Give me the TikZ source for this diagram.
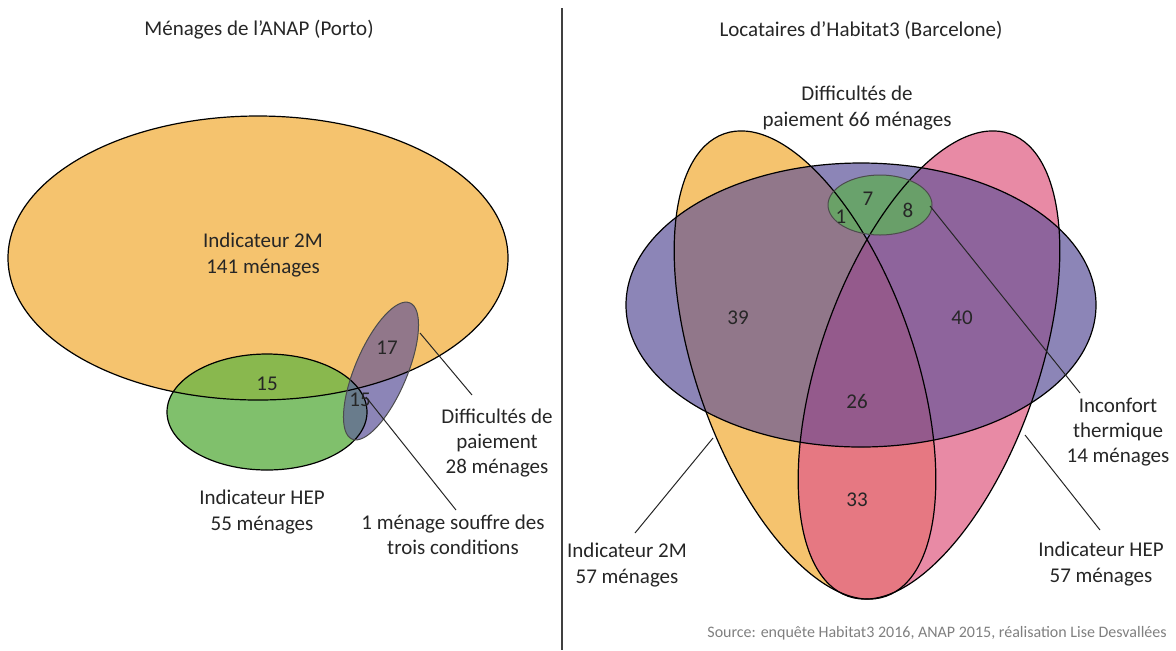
\documentclass[tikz,border=0pt]{standalone}
\usepackage{fontspec}
\setmainfont{Carlito}
\usepackage{xcolor}
\usetikzlibrary{positioning}

\definecolor{txt}{HTML}{262626}
\definecolor{srcgray}{HTML}{7F7F7F}
\definecolor{orangefill}{HTML}{F5C36E}
\definecolor{greenfill}{HTML}{80C06C}
\definecolor{greenorange}{HTML}{89B84E}
\definecolor{purplefill}{HTML}{8C85B7}
\definecolor{purpleorange}{HTML}{91778A}
\definecolor{purplegreen}{HTML}{697C8C}
\definecolor{pinkfill}{HTML}{E88AA5}
\definecolor{pinkorange}{HTML}{E67882}
\definecolor{purplepink}{HTML}{8E649C}
\definecolor{purpleall}{HTML}{945A8C}
\definecolor{thermfill}{HTML}{66A664}

\begin{document}
\begin{tikzpicture}[
  x=0.5pt, y=-0.5pt,
  every node/.style={font=\fontsize{10.5}{12.6}\selectfont, text=txt, align=center, inner sep=0pt},
  outline/.style={draw=black, line width=0.6pt},
  thin outline/.style={draw=black!70, line width=0.5pt},
  leader/.style={draw=black!85, line width=0.5pt},
  tiltpay/.style={rotate around={67:(381,371)}},
  tilt2M/.style={rotate around={-70.75:(805,365)}},
  tiltHEP/.style={rotate around={70.75:(929,365)}}
]
\useasboundingbox (0,0) rectangle (1176,650);

% Left: Porto
\fill[orangefill] (258,258) ellipse [x radius=250, y radius=142];
\fill[greenfill] (267,412) ellipse [x radius=100, y radius=58];
\begin{scope}
  \clip (258,258) ellipse [x radius=250, y radius=142];
  \fill[greenorange] (267,412) ellipse [x radius=100, y radius=58];
\end{scope}
\fill[purplefill, tiltpay] (381,371) ellipse [x radius=74, y radius=26];
\begin{scope}
  \clip[tiltpay] (381,371) ellipse [x radius=74, y radius=26];
  \fill[purpleorange] (258,258) ellipse [x radius=250, y radius=142];
  \fill[purplegreen] (267,412) ellipse [x radius=100, y radius=58];
\end{scope}
\draw[outline] (258,258) ellipse [x radius=250, y radius=142];
\draw[outline] (267,412) ellipse [x radius=100, y radius=58];
\draw[thin outline, tiltpay] (381,371) ellipse [x radius=74, y radius=26];

\node (titleL) at (259,30) {Ménages de l’ANAP (Porto)};
\node (lbl2Ma) at (263,255) {Indicateur 2M\\141 ménages};
\node (n15a) at (267,384) {15};
\node (n17) at (387,348) {17};
\node (n15b) at (360,400) {15};
\node (lblHEPa) at (262,512) {Indicateur HEP\\55 ménages};
\node (lblpay28) at (497,443) {Difficultés de\\paiement\\28 ménages};
\node (lbltrois) at (453,535) {1 ménage souffre des\\trois conditions};

\coordinate (pay28in) at (420,333);
\coordinate (pay28out) at (472,395);
\coordinate (troisin) at (366,397);
\coordinate (troisout) at (456,510);
\draw[leader] (pay28in) -- (pay28out);
\draw[leader] (troisin) -- (troisout);

% Divider
\coordinate (divtop) at (562,8);
\coordinate (divbot) at (562,650);
\draw[black!75, line width=0.6pt] (divtop) -- (divbot);

% Right: Barcelona
\fill[orangefill, tilt2M] (805,365) ellipse [x radius=245, y radius=109];
\fill[pinkfill, tiltHEP] (929,365) ellipse [x radius=245, y radius=109];
\begin{scope}
  \clip[tilt2M] (805,365) ellipse [x radius=245, y radius=109];
  \fill[pinkorange, tiltHEP] (929,365) ellipse [x radius=245, y radius=109];
\end{scope}
\fill[purplefill] (861,305) ellipse [x radius=235, y radius=142];
\begin{scope}
  \clip (861,305) ellipse [x radius=235, y radius=142];
  \fill[purpleorange, tilt2M] (805,365) ellipse [x radius=245, y radius=109];
  \fill[purplepink, tiltHEP] (929,365) ellipse [x radius=245, y radius=109];
  \clip[tilt2M] (805,365) ellipse [x radius=245, y radius=109];
  \fill[purpleall, tiltHEP] (929,365) ellipse [x radius=245, y radius=109];
\end{scope}
\fill[thermfill, fill opacity=0.9] (880,205) ellipse [x radius=52, y radius=30];
\draw[outline, tilt2M] (805,365) ellipse [x radius=245, y radius=109];
\draw[outline, tiltHEP] (929,365) ellipse [x radius=245, y radius=109];
\draw[outline] (861,305) ellipse [x radius=235, y radius=142];
\draw[thin outline] (880,205) ellipse [x radius=52, y radius=30];

\node (titleR) at (861,30) {Locataires d’Habitat3 (Barcelone)};
\node (lblpay66) at (857,108) {Difficultés de\\paiement 66 ménages};
\node (n7) at (868,199) {7};
\node (n8) at (908,210) {8};
\node (n1) at (841,217) {1};
\node (n39) at (738,318) {39};
\node (n40) at (962,318) {40};
\node (n26) at (857,401) {26};
\node (n33) at (857,500) {33};
\node (lbltherm) at (1118,432) {Inconfort\\thermique\\14 ménages};
\node (lblHEPb) at (1101,564) {Indicateur HEP\\57 ménages};
\node (lbl2Mb) at (627,565) {Indicateur 2M\\57 ménages};

\coordinate (thermin) at (930,206);
\coordinate (thermout) at (1080,393);
\coordinate (HEPin) at (1025,435);
\coordinate (HEPout) at (1100,530);
\coordinate (twoMin) at (713,438);
\coordinate (twoMout) at (635,533);
\draw[leader] (thermin) -- (thermout);
\draw[leader] (HEPin) -- (HEPout);
\draw[leader] (twoMin) -- (twoMout);

% Source
\node[font=\fontsize{8}{9.6}\selectfont, text=srcgray, anchor=east] (source) at (1167,633)
  {Source: enquête Habitat3 2016, ANAP 2015, réalisation Lise Desvallées};

\end{tikzpicture}
\end{document}
